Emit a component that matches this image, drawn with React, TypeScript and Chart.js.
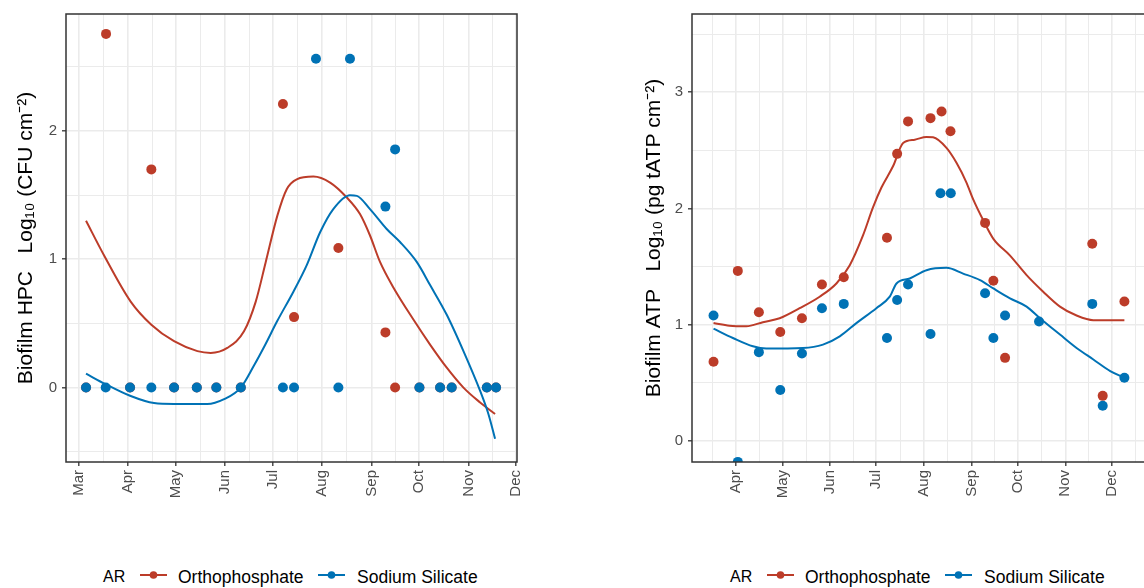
import React, { useEffect, useRef } from 'react';
import { Chart, registerables } from 'chart.js';

Chart.register(...registerables);

const FONT = "'Liberation Sans', Arial, Helvetica, sans-serif";
const RED = '#BC3C29';
const BLUE = '#0072B5';
const SERIES_NAMES = ['Orthophosphate', 'Sodium Silicate'];
const LEGEND_TITLE = 'AR';

// Month starts as day of year, with their labels
const monthDays = [32, 60, 91, 121, 152, 182, 213, 244, 274, 305, 335, 366];
const monthNames = ['Feb', 'Mar', 'Apr', 'May', 'Jun', 'Jul', 'Aug', 'Sep', 'Oct', 'Nov', 'Dec', 'Jan'];

// ---------- Biofilm HPC panel ----------
const hpcYMajor = [0, 1, 2];
const hpcOrthoDays = [64.4, 77.0, 92.1, 105.5, 119.8, 134.1, 146.4, 161.8, 188.3, 195.3, 223.2, 252.8, 258.9, 274.2, 287.2, 294.5, 316.6, 322.4];
const hpcOrthoVals = [0, 2.756, 0, 1.70, 0, 0, 0, 0, 2.21, 0.549, 1.087, 0.43, 0, 0, 0, 0, 0, 0];
const hpcSilDays = [64.4, 76.8, 92.1, 105.5, 119.8, 134.1, 146.4, 161.8, 188.3, 195.3, 209.1, 223.2, 230.5, 252.8, 258.9, 274.2, 287.2, 294.5, 316.6, 322.4];
const hpcSilVals = [0, 0, 0, 0, 0, 0, 0, 0, 0, 0, 2.562, 0, 2.562, 1.41, 1.856, 0, 0, 0, 0, 0];
// smoothed curves
const hpcOrthoFitDays = [64.4, 75.7, 92.5, 105.5, 119.8, 134.5, 142.9, 153.3, 163.8, 171.2, 177.5, 184.8, 190.7, 197, 207.5, 218, 228.5, 236.8, 243.1, 249.4, 257.8, 270.4, 280.9, 291.4, 301.9, 312.4, 321.8];
const hpcOrthoFitVals = [1.30, 1.031, 0.67, 0.49, 0.361, 0.284, 0.27, 0.309, 0.438, 0.67, 0.979, 1.34, 1.546, 1.623, 1.644, 1.597, 1.481, 1.352, 1.185, 0.979, 0.78, 0.53, 0.335, 0.155, 0, -0.116, -0.206];
const hpcSilFitDays = [64.4, 76.8, 92.1, 107.2, 119.8, 140.7, 151.3, 161.8, 170, 177, 184.8, 194.9, 203.3, 211.7, 220, 230.5, 234.8, 243.1, 253.6, 262, 272.5, 280.9, 291.4, 301.9, 312.4, 317.6, 321.8];
const hpcSilFitVals = [0.108, 0.026, -0.064, -0.121, -0.128, -0.128, -0.09, 0, 0.17, 0.33, 0.52, 0.747, 0.954, 1.21, 1.391, 1.499, 1.494, 1.391, 1.236, 1.134, 0.979, 0.799, 0.567, 0.284, -0.026, -0.206, -0.399];

// ---------- Biofilm ATP panel ----------
const atpYMajor = [0, 1, 2, 3];
const atpOrthoDays = [76.2, 92.0, 105.7, 119.6, 133.7, 146.7, 160.9, 189.0, 195.6, 202.7, 217.3, 224.5, 230.3, 252.8, 258.2, 265.8, 322.5, 329.3, 343.4];
const atpOrthoVals = [0.681, 1.463, 1.108, 0.937, 1.056, 1.346, 1.409, 1.748, 2.47, 2.749, 2.777, 2.834, 2.664, 1.876, 1.378, 0.715, 1.696, 0.388, 1.199];
const atpSilDays = [76.2, 92.0, 105.7, 119.6, 133.7, 146.7, 160.9, 189.0, 195.6, 202.7, 217.3, 223.8, 230.5, 252.8, 258.2, 265.8, 287.9, 322.5, 329.3, 343.4];
const atpSilVals = [1.079, -0.18, 0.764, 0.439, 0.752, 1.142, 1.179, 0.886, 1.213, 1.346, 0.92, 2.131, 2.131, 1.27, 0.886, 1.079, 1.028, 1.179, 0.303, 0.544];
const atpOrthoFitDays = [76.2, 86.6, 97.5, 108.3, 119.2, 132.2, 145.2, 156.1, 164.8, 173.4, 179.9, 185.4, 193, 199.5, 207.1, 214.7, 219, 227.7, 234.2, 240.7, 245, 251.7, 258.2, 268.9, 279.8, 290.6, 301.5, 312.3, 323.2, 343.4];
const atpOrthoFitVals = [1.014, 0.991, 0.986, 1.022, 1.056, 1.142, 1.241, 1.355, 1.512, 1.768, 2.009, 2.18, 2.365, 2.564, 2.592, 2.615, 2.612, 2.521, 2.393, 2.223, 2.08, 1.896, 1.739, 1.597, 1.427, 1.284, 1.156, 1.079, 1.039, 1.039];
const atpSilFitDays = [76.2, 88.8, 101.8, 110.5, 134.3, 147.4, 158.3, 169.1, 182.1, 190.8, 195.2, 203.8, 214.7, 227.7, 238.5, 249.5, 258.2, 269, 279.8, 288.5, 301.5, 312.3, 323.2, 334.2, 343.4];
const atpSilFitVals = [0.966, 0.886, 0.815, 0.795, 0.80, 0.829, 0.90, 1.014, 1.142, 1.241, 1.355, 1.398, 1.469, 1.489, 1.44, 1.384, 1.312, 1.227, 1.156, 1.056, 0.915, 0.80, 0.701, 0.601, 0.544];

const zip = (xs: number[], ys: number[]) => xs.map((x, i) => ({ x, y: ys[i] }));

type PanelCfg = {
  left: number; width: number; yTitle: string;
  xMin: number; xMax: number; yMin: number; yMax: number; yMajor: number[];
  axisW: number; titlePad: number; padRight: number;
  orthoDays: number[]; orthoVals: number[]; silDays: number[]; silVals: number[];
  orthoFitDays: number[]; orthoFitVals: number[]; silFitDays: number[]; silFitVals: number[];
};

const panels: PanelCfg[] = [
  {
    left: 0, width: 540, yTitle: 'Biofilm HPC   Log\u2081\u2080 (CFU cm\u207B\u00B2)',
    xMin: 51.8, xMax: 335.6, yMin: -0.58, yMax: 2.911, yMajor: hpcYMajor,
    axisW: 66, titlePad: 13.4, padRight: 23,
    orthoDays: hpcOrthoDays, orthoVals: hpcOrthoVals, silDays: hpcSilDays, silVals: hpcSilVals,
    orthoFitDays: hpcOrthoFitDays, orthoFitVals: hpcOrthoFitVals, silFitDays: hpcSilFitDays, silFitVals: hpcSilFitVals,
  },
  {
    left: 600, width: 560, yTitle: 'Biofilm ATP   Log\u2081\u2080 (pg tATP cm\u207B\u00B2)',
    xMin: 62.2, xMax: 356.8, yMin: -0.181, yMax: 3.673, yMajor: atpYMajor,
    axisW: 92, titlePad: 41.4, padRight: 15,
    orthoDays: atpOrthoDays, orthoVals: atpOrthoVals, silDays: atpSilDays, silVals: atpSilVals,
    orthoFitDays: atpOrthoFitDays, orthoFitVals: atpOrthoFitVals, silFitDays: atpSilFitDays, silFitVals: atpSilFitVals,
  },
];

const CANVAS_H = 520;
const PLOT_TOP = 10;
const PLOT_BOTTOM = 462;

const framePlugin = {
  id: 'frame',
  afterDatasetsDraw(chart: any) {
    const { ctx, chartArea: a } = chart;
    ctx.save();
    ctx.strokeStyle = '#333333';
    ctx.lineWidth = 1.5;
    ctx.strokeRect(a.left, a.top, a.right - a.left, a.bottom - a.top);
    ctx.restore();
  },
};

function Panel({ cfg }: { cfg: PanelCfg }) {
  const ref = useRef<HTMLCanvasElement>(null);
  useEffect(() => {
    const p = cfg;
    const majorX = new Set<number>();
    const xTickList: number[] = [];
    monthDays.forEach((d, i) => {
      if (d >= p.xMin && d <= p.xMax) { xTickList.push(d); majorX.add(d); }
      if (i < monthDays.length - 1) {
        const m = (d + monthDays[i + 1]) / 2;
        if (m >= p.xMin && m <= p.xMax) xTickList.push(m);
      }
    });
    xTickList.sort((a, b) => a - b);
    const majorY = new Set<number>(p.yMajor);
    const ySet = new Set<number>();
    p.yMajor.forEach((m) => {
      [m - 0.5, m, m + 0.5].forEach((v) => { if (v >= p.yMin && v <= p.yMax) ySet.add(v); });
    });
    const yTickList = Array.from(ySet).sort((a, b) => a - b);

    const gridX = {
      color: '#EBEBEB',
      lineWidth: (c: any) => (c.tick && majorX.has(c.tick.value) ? 1.6 : 1.0),
      tickColor: (c: any) => (c.tick && majorX.has(c.tick.value) ? '#333333' : 'rgba(0,0,0,0)'),
      tickWidth: 1.3,
      tickLength: 4,
      drawTicks: true,
    };
    const gridY = {
      color: '#EBEBEB',
      lineWidth: (c: any) => (c.tick && majorY.has(c.tick.value) ? 1.6 : 1.0),
      tickColor: (c: any) => (c.tick && majorY.has(c.tick.value) ? '#333333' : 'rgba(0,0,0,0)'),
      tickWidth: 1.3,
      tickLength: 4,
      drawTicks: true,
    };

    const chart = new Chart(ref.current as HTMLCanvasElement, {
      type: 'scatter',
      data: {
        datasets: [
          {
            label: SERIES_NAMES[1] + ' fit', data: zip(p.silFitDays, p.silFitVals), showLine: true,
            borderColor: BLUE, backgroundColor: BLUE, borderWidth: 2, pointRadius: 0,
            tension: 0.4, cubicInterpolationMode: 'monotone', order: 0, clip: 0,
          } as any,
          {
            label: SERIES_NAMES[0] + ' fit', data: zip(p.orthoFitDays, p.orthoFitVals), showLine: true,
            borderColor: RED, backgroundColor: RED, borderWidth: 2, pointRadius: 0,
            tension: 0.4, cubicInterpolationMode: 'monotone', order: 1, clip: 0,
          } as any,
          {
            label: SERIES_NAMES[1], data: zip(p.silDays, p.silVals), showLine: false,
            backgroundColor: BLUE, borderColor: BLUE, borderWidth: 0, pointRadius: 5, order: 2, clip: 0,
          } as any,
          {
            label: SERIES_NAMES[0], data: zip(p.orthoDays, p.orthoVals), showLine: false,
            backgroundColor: RED, borderColor: RED, borderWidth: 0, pointRadius: 5, order: 3, clip: 0,
          } as any,
        ],
      },
      options: {
        responsive: false,
        animation: false,
        events: [],
        layout: { padding: { left: 0, top: PLOT_TOP, right: p.padRight, bottom: 0 } },
        plugins: { legend: { display: false }, tooltip: { enabled: false } },
        scales: {
          x: {
            type: 'linear', min: p.xMin, max: p.xMax, bounds: 'data',
            afterBuildTicks: (s: any) => { s.ticks = xTickList.map((v) => ({ value: v })); },
            afterFit: (s: any) => { s.height = CANVAS_H - PLOT_BOTTOM; },
            grid: gridX as any,
            border: { display: false },
            ticks: {
              autoSkip: false, minRotation: 90, maxRotation: 90, padding: 4,
              color: '#4D4D4D', font: { family: FONT, size: 15 },
              callback: (v: any) => (majorX.has(v) ? monthNames[monthDays.indexOf(v)] : ''),
            },
          },
          y: {
            type: 'linear', min: p.yMin, max: p.yMax, bounds: 'data',
            afterBuildTicks: (s: any) => { s.ticks = yTickList.map((v) => ({ value: v })); },
            afterFit: (s: any) => { s.width = p.axisW; },
            grid: gridY as any,
            border: { display: false },
            ticks: {
              autoSkip: false, padding: 5, color: '#4D4D4D', font: { family: FONT, size: 15 },
              callback: (v: any) => (majorY.has(v) ? String(v) : ''),
            },
            title: {
              display: true, text: p.yTitle, color: '#000000',
              font: { family: FONT, size: 21 }, padding: { top: p.titlePad, bottom: 0 },
            },
          },
        },
      },
      plugins: [framePlugin],
    } as any);
    return () => chart.destroy();
  }, [cfg]);
  return (
    <canvas
      ref={ref}
      width={cfg.width}
      height={CANVAS_H}
      style={{ position: 'absolute', left: cfg.left, top: 0, width: cfg.width, height: CANVAS_H }}
    />
  );
}

function Symbol({ color, left }: { color: string; left: number }) {
  return (
    <svg width={27} height={12} style={{ position: 'absolute', left, top: 569 }}>
      <line x1={0} y1={6} x2={27} y2={6} stroke={color} strokeWidth={2} />
      <circle cx={13.5} cy={6} r={3.8} fill={color} />
    </svg>
  );
}

function Legend({ offset }: { offset: number }) {
  const txt = (left: number, size: number, s: string) => (
    <div style={{ position: 'absolute', left, top: 566, height: 22, lineHeight: '22px', fontSize: size, fontFamily: FONT, color: '#000', whiteSpace: 'nowrap' }}>{s}</div>
  );
  return (
    <>
      {txt(103 + offset, 16, LEGEND_TITLE)}
      <Symbol color={RED} left={140 + offset} />
      {txt(178 + offset, 17.5, SERIES_NAMES[0])}
      <Symbol color={BLUE} left={318 + offset} />
      {txt(357 + offset, 17.5, SERIES_NAMES[1])}
    </>
  );
}

export default function App() {
  return (
    <div style={{ position: 'fixed', left: 0, top: 0, width: 1144, height: 588, overflow: 'hidden', background: '#ffffff' }}>
      {panels.map((p, i) => <Panel key={i} cfg={p} />)}
      <Legend offset={0} />
      <Legend offset={627} />
    </div>
  );
}
